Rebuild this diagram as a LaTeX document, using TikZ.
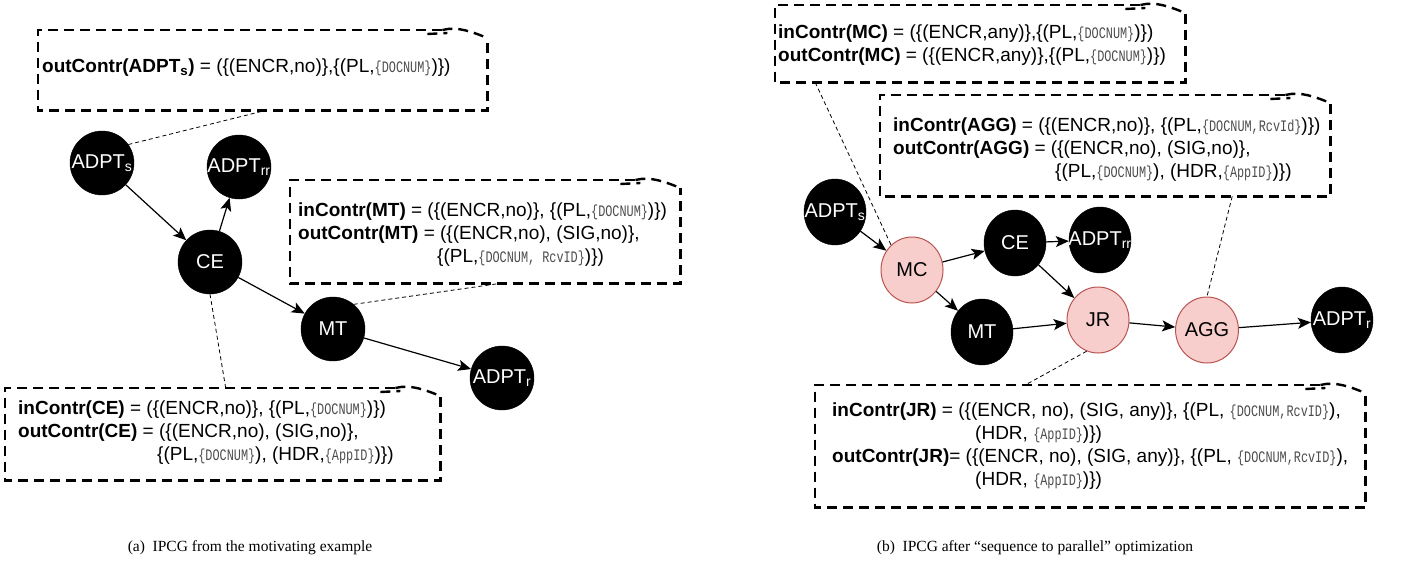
\documentclass[tikz,border=0pt]{standalone}
\usepackage{fontspec}
\setmainfont{Liberation Sans}
\newfontfamily\capfont{Liberation Serif}
\newfontfamily\courfont{Liberation Mono}
\usetikzlibrary{arrows.meta,calc,shapes.geometric}
\definecolor{pinkfill}{HTML}{F8CECC}
\definecolor{pinkline}{HTML}{B85450}
\newcommand\mono[1]{\scalebox{0.74}[1]{\courfont\fontsize{16}{18}\selectfont\color{black!70}#1}}
\newcommand\nl[1]{\makebox[0pt]{#1}}
\newcommand\noteborder[1]{%
  \draw[notedash] ([xshift=-45pt]#1.north east) -- (#1.north west) -- (#1.south west) -- (#1.south east) -- ([yshift=-8pt]#1.north east);
  \draw[notedash] ([xshift=-45pt]#1.north east) .. controls ([xshift=-30pt,yshift=4pt]#1.north east) and ([xshift=-15pt,yshift=-2pt]#1.north east) .. ([yshift=-8pt]#1.north east);
  \draw[notedash] ([xshift=-60pt,yshift=-4pt]#1.north east) -- ([xshift=-40pt,yshift=-3pt]#1.north east);
}
\begin{document}
\begin{tikzpicture}[x=1pt,y=-1pt,
  blk/.style={circle, fill=black, draw=black, minimum size=64pt, inner sep=0pt, text=white, font=\fontsize{20}{24}\selectfont},
  blkb/.style={ellipse, fill=black, draw=black, minimum width=62pt, minimum height=66pt, inner sep=0pt, text=white, font=\fontsize{20}{24}\selectfont},
  pnk/.style={ellipse, fill=pinkfill, draw=pinkline, line width=1pt, minimum width=62pt, minimum height=66pt, inner sep=0pt, text=black, font=\fontsize{20}{24}\selectfont},
  arr/.style={-{Stealth[length=13pt,width=11pt,inset=3pt]}, line width=1.2pt},
  link/.style={dash pattern=on 4pt off 3pt, line width=0.8pt},
  notedash/.style={dash pattern=on 10pt off 6pt, line width=2.4pt},
  frame/.style={draw=none, inner sep=0pt, anchor=north west},
  boxtxt/.style={anchor=west, align=left, inner sep=0pt, font=\fontsize{19}{23}\selectfont},
  captxt/.style={font=\capfont\fontsize{15.5}{18}\selectfont}
]
\useasboundingbox (0,0) rectangle (1410,565);

% ---------------- (a) ----------------
\node[frame, minimum width=449pt, minimum height=80pt] (n1) at (38,30) {};
\noteborder{n1}
\node[boxtxt] (t1) at (42,68) {\textbf{outContr(ADPT\textsubscript{s})} = (\{(ENCR,no)\},\{(PL,\mono{\{DOCNUM\}})\})};

\node[frame, minimum width=390pt, minimum height=103pt] (nMT) at (290,180) {};
\noteborder{nMT}
\node[boxtxt] (tMT) at (298,235) {\textbf{inContr(MT)} = (\{(ENCR,no)\}, \{(PL,\mono{\{DOCNUM\}})\})\\
\textbf{outContr(MT)} = (\{(ENCR,no), (SIG,no)\},\\
\hspace*{139pt}\{(PL,\mono{\{DOCNUM, RcvID\}})\})};

\node[frame, minimum width=435pt, minimum height=92pt] (nCE) at (5,388) {};
\noteborder{nCE}
\node[boxtxt] (tCE) at (18,433) {\textbf{inContr(CE)} = (\{(ENCR,no)\}, \{(PL,\mono{\{DOCNUM\}})\})\\
\textbf{outContr(CE)} = (\{(ENCR,no), (SIG,no)\},\\
\hspace*{139pt}\{(PL,\mono{\{DOCNUM\}}), (HDR,\mono{\{AppID\}})\})};

\node[blk] (aS) at (102,163) {\nl{ADPT\textsubscript{s}}};
\node[blk] (aRR) at (239,167) {\nl{ADPT\textsubscript{rr}}};
\node[blk] (aCE) at (210,262) {CE};
\node[blk] (aMT) at (333,329) {MT};
\node[blk] (aR) at (502,378) {\nl{ADPT\textsubscript{r}}};

\draw[arr] (aS) -- (aCE);
\draw[arr] (aCE) -- (aRR);
\draw[arr] (aCE) -- (aMT);
\draw[arr] (aMT) -- (aR);

\draw[link] (aS.35) -- ([xshift=3pt]n1.south);
\draw[link] (aCE.south) -- ([xshift=3pt]nCE.north);
\draw[link] (aMT.50) -- ([xshift=15pt]nMT.south);

% ---------------- (b) ----------------
\node[frame, minimum width=410pt, minimum height=77pt] (nMC) at (775,5) {};
\noteborder{nMC}
\node[boxtxt] (tMC) at (778,45) {\textbf{inContr(MC)} = (\{(ENCR,any)\},\{(PL,\mono{\{DOCNUM\}})\})\\
\textbf{outContr(MC)} = (\{(ENCR,any)\},\{(PL,\mono{\{DOCNUM\}})\})};

\node[frame, minimum width=450pt, minimum height=101pt] (nAGG) at (880,95) {};
\noteborder{nAGG}
\node[boxtxt] (tAGG) at (893,150) {\textbf{inContr(AGG)} = (\{(ENCR,no)\}, \{(PL,\mono{\{DOCNUM,RcvId\}})\})\\
\textbf{outContr(AGG)} = (\{(ENCR,no), (SIG,no)\},\\
\hspace*{162pt}\{(PL,\mono{\{DOCNUM\}}), (HDR,\mono{\{AppID\}})\})};

\node[frame, minimum width=550pt, minimum height=122pt] (nJR) at (815,385) {};
\noteborder{nJR}
\node[boxtxt] (tJR) at (832,446) {\textbf{inContr(JR)} = (\{(ENCR, no), (SIG, any)\}, \{(PL, \mono{\{DOCNUM,RcvID\}}),\\
\hspace*{143pt}(HDR, \mono{\{AppID\}})\})\\
\textbf{outContr(JR)}= (\{(ENCR, no), (SIG, any)\}, \{(PL, \mono{\{DOCNUM,RcvID\}}),\\
\hspace*{143pt}(HDR, \mono{\{AppID\}})\})};

\node[blkb] (bS) at (835,212) {\nl{ADPT\textsubscript{s}}};
\node[pnk] (bMC) at (912,270) {MC};
\node[blkb] (bCE) at (1015,243) {CE};
\node[blkb] (bRR) at (1100,240) {\nl{ADPT\textsubscript{rr}}};
\node[blkb] (bMT) at (982,332) {MT};
\node[pnk] (bJR) at (1098,320) {JR};
\node[pnk] (bAGG) at (1207,330) {AGG};
\node[blkb] (bR) at (1342,320) {\nl{ADPT\textsubscript{r}}};

\draw[arr] (bS) -- (bMC);
\draw[arr] (bMC) -- (bCE);
\draw[arr] (bMC) -- (bMT);
\draw[arr] (bCE) -- (bRR);
\draw[arr] (bCE) -- (bJR);
\draw[arr] (bMT) -- (bJR);
\draw[arr] (bJR) -- (bAGG);
\draw[arr] (bAGG) -- (bR);

\draw[link] ([xshift=-165pt]nMC.south) -- (bMC.130);
\draw[link] ([xshift=127pt]nAGG.south) -- (bAGG.north);
\draw[link] (bJR.250) -- ([xshift=-65pt]nJR.north);

% captions
\node[captxt] (capA) at (250,548) {(a)\ \ IPCG from the motivating example};
\node[captxt] (capB) at (1035,548) {(b)\ \ IPCG after “sequence to parallel” optimization};
\end{tikzpicture}
\end{document}
